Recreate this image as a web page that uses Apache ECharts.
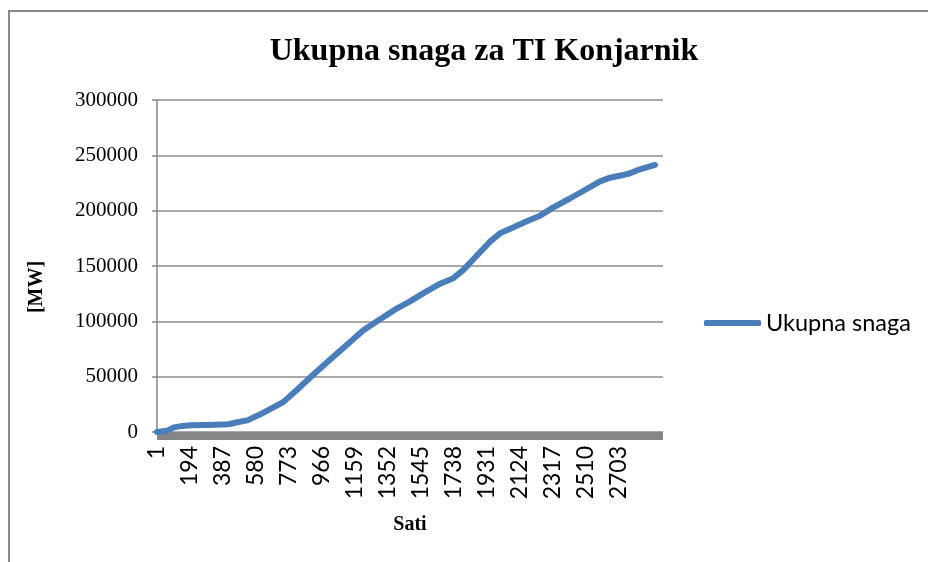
<!DOCTYPE html>
<html>
<head>
<meta charset="utf-8">
<script src="https://cdn.jsdelivr.net/npm/echarts@6.0.0/dist/echarts.min.js"></script>
<style>
  html, body { margin: 0; padding: 0; background: #fff; }
  #wrap { position: relative; width: 928px; height: 562px; overflow: hidden; }
  #main { width: 928px; height: 562px; }
  #frame { position: absolute; left: 8px; top: 10px; right: -20px; bottom: -20px;
           border: 2px solid #898989; pointer-events: none; }
</style>
</head>
<body>
<div id="wrap">
  <div id="main"></div>
  <div id="frame"></div>
</div>
<script>
// sati (x) i ukupna snaga [MW] (y), ocitano sa slike
var sati = [1, 60, 100, 150, 200, 300, 420, 470, 530, 600, 680, 740, 820, 900, 976,
            1034, 1130, 1210, 1290, 1405, 1483, 1562, 1660, 1737, 1796, 1860, 1952,
            2010, 2090, 2167, 2245, 2323, 2420, 2500, 2596, 2655, 2740, 2772, 2830, 2918];
var snaga = [0, 1200, 4200, 5500, 6000, 6300, 7000, 8800, 10500, 15500, 22000, 27000,
             38000, 49500, 60000, 68000, 81000, 92000, 100000, 111500, 118000, 125500,
             134000, 139000, 146500, 157000, 172000, 179500, 185000, 190500, 195500,
             203000, 211000, 218000, 226500, 229800, 232500, 233800, 237400, 241300];
var xOznake = [1, 194, 387, 580, 773, 966, 1159, 1352, 1545, 1738, 1931, 2124, 2317, 2510, 2703];

var podaci = [];
for (var i = 0; i < sati.length; i++) {
    podaci.push([sati[i], snaga[i]]);
}

var myChart = echarts.init(document.getElementById('main'));
var option = {
    animation: false,
    title: {
        text: 'Ukupna snaga za TI Konjarnik',
        left: 479,
        textAlign: 'center',
        top: 31,
        textStyle: { fontFamily: 'Liberation Serif', fontWeight: 'bold', fontSize: 32, color: '#000' }
    },
    legend: {
        left: 699,
        top: 306,
        icon: 'roundRect',
        itemWidth: 57,
        itemHeight: 6,
        textStyle: { fontFamily: 'Lato', fontSize: 23.5, color: '#000' },
        data: ['Ukupna snaga']
    },
    grid: { left: 157, right: 265, top: 100, bottom: 130 },
    xAxis: {
        type: 'value',
        min: 1,
        max: 2965,
        offset: 4,
        name: 'Sati',
        nameLocation: 'middle',
        nameGap: 79,
        nameTextStyle: { fontFamily: 'Liberation Serif', fontWeight: 'bold', fontSize: 20, color: '#000' },
        axisLine: { onZero: false, lineStyle: { color: '#868686', width: 8, cap: 'butt' } },
        axisTick: { show: false },
        splitLine: { show: false },
        axisLabel: {
            customValues: xOznake,
            formatter: function (v) { return String(v); },
            rotate: 90,
            margin: 10,
            padding: [9, 0, 0, 0],
            fontFamily: 'Lato',
            fontSize: 23,
            color: '#000'
        }
    },
    yAxis: {
        type: 'value',
        min: 0,
        max: 300000,
        interval: 50000,
        name: '[MW]',
        nameLocation: 'middle',
        nameGap: 110,
        nameTextStyle: { fontFamily: 'Liberation Serif', fontWeight: 'bold', fontSize: 20, color: '#000', padding: [0, 42, 0, 0] },
        axisLine: { show: true, lineStyle: { color: '#868686', width: 1.5 } },
        axisTick: { show: true, length: 5, lineStyle: { color: '#868686', width: 1.5 } },
        splitLine: { lineStyle: { color: '#8c8c8c', width: 1.5 } },
        axisLabel: {
            margin: 19,
            formatter: function (v) { return String(v); },
            fontFamily: 'Liberation Serif',
            fontSize: 21,
            color: '#000'
        }
    },
    series: [{
        name: 'Ukupna snaga',
        type: 'line',
        data: podaci,
        showSymbol: false,
        color: '#4a7ebb',
        lineStyle: { width: 6, color: '#4a7ebb', cap: 'round', join: 'round' }
    }]
};
myChart.setOption(option);
</script>
</body>
</html>
